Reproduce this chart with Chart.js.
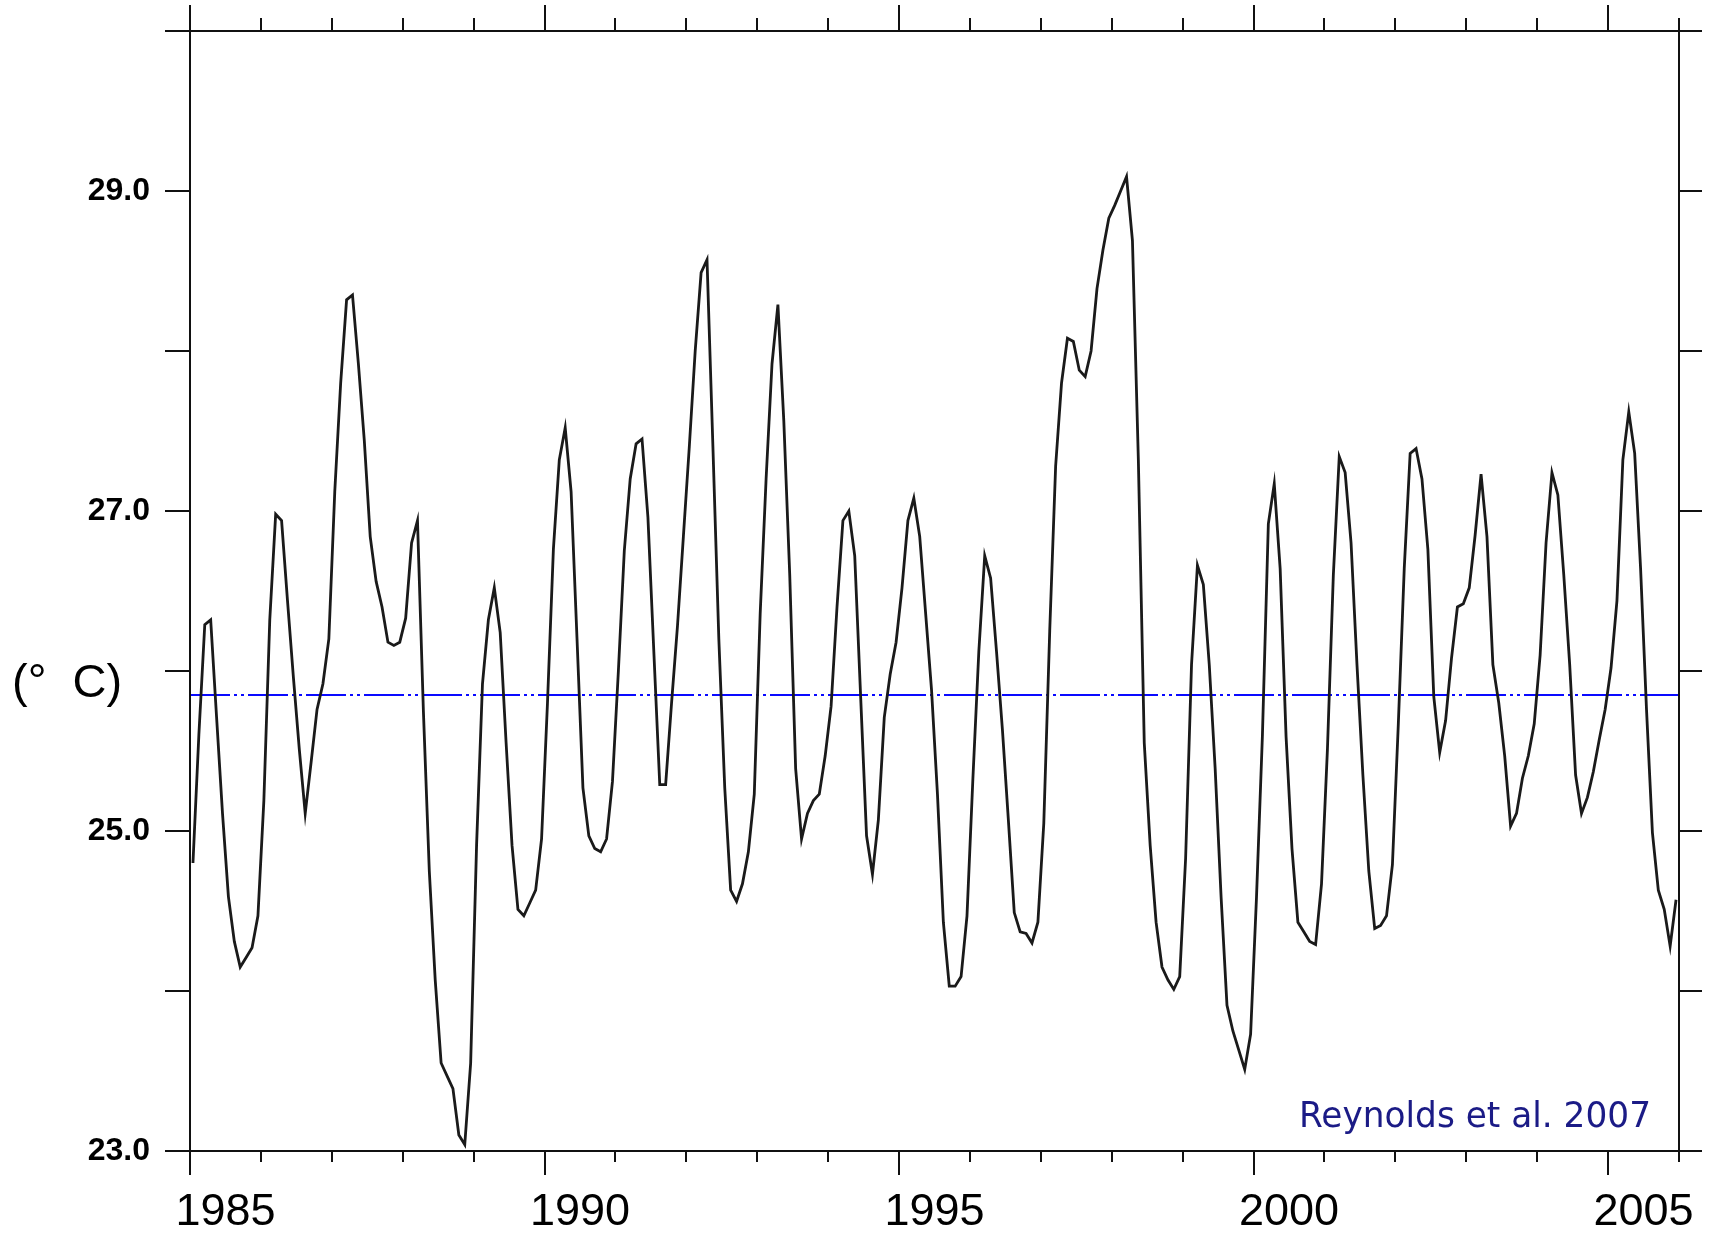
<!DOCTYPE html>
<html>
<head>
<meta charset="utf-8">
<script src="https://cdn.jsdelivr.net/npm/chart.js@4.4.1/dist/chart.umd.min.js"></script>
<style>
  html, body { margin: 0; padding: 0; background: #ffffff; }
  #wrap { width: 1716px; height: 1239px; }
</style>
</head>
<body>
<div id="wrap"><canvas id="sst" width="1716" height="1239"></canvas></div>
<script>
// Monthly mean sea surface temperature (°C), January 1985 – December 2005
const startYear = 1985;
const endYear = 2006;
const sstMonthly = [
  24.80, 25.60, 26.29, 26.32, 25.71, 25.11, 24.59, 24.31, 24.15, 24.21, 24.27, 24.47, // 1985
  25.19, 26.32, 26.98, 26.94, 26.44, 25.96, 25.51, 25.11, 25.43, 25.76, 25.92, 26.20, // 1986
  27.12, 27.80, 28.32, 28.35, 27.92, 27.44, 26.84, 26.56, 26.40, 26.18, 26.16, 26.18, // 1987
  26.33, 26.80, 26.94, 25.75, 24.75, 24.07, 23.55, 23.47, 23.39, 23.10, 23.04, 23.55, // 1988
  24.91, 25.92, 26.32, 26.52, 26.24, 25.55, 24.91, 24.51, 24.47, 24.55, 24.63, 24.95, // 1989
  25.80, 26.76, 27.32, 27.52, 27.12, 26.20, 25.27, 24.97, 24.89, 24.87, 24.95, 25.31, // 1990
  26.00, 26.75, 27.20, 27.42, 27.45, 26.96, 26.12, 25.29, 25.29, 25.80, 26.28, 26.84, // 1991
  27.40, 28.00, 28.49, 28.57, 27.40, 26.20, 25.27, 24.63, 24.56, 24.67, 24.87, 25.23, // 1992
  26.36, 27.20, 27.92, 28.29, 27.56, 26.60, 25.39, 24.95, 25.11, 25.19, 25.23, 25.47, // 1993
  25.78, 26.40, 26.94, 27.00, 26.72, 25.84, 24.97, 24.73, 25.07, 25.71, 25.98, 26.18, // 1994
  26.52, 26.94, 27.08, 26.84, 26.36, 25.88, 25.23, 24.43, 24.03, 24.03, 24.09, 24.47, // 1995
  25.33, 26.12, 26.72, 26.58, 26.12, 25.63, 25.07, 24.49, 24.37, 24.36, 24.30, 24.43, // 1996
  25.05, 26.25, 27.28, 27.80, 28.08, 28.06, 27.88, 27.84, 28.00, 28.39, 28.63, 28.83, // 1997
  28.91, 29.00, 29.09, 28.69, 27.32, 25.55, 24.91, 24.43, 24.15, 24.07, 24.01, 24.09, // 1998
  24.83, 26.04, 26.66, 26.54, 26.04, 25.39, 24.59, 23.91, 23.75, 23.63, 23.51, 23.73, // 1999
  24.59, 25.60, 26.92, 27.17, 26.64, 25.59, 24.89, 24.43, 24.37, 24.31, 24.29, 24.67, // 2000
  25.51, 26.60, 27.34, 27.24, 26.80, 26.04, 25.35, 24.75, 24.39, 24.41, 24.47, 24.79, // 2001
  25.67, 26.64, 27.36, 27.39, 27.20, 26.76, 25.84, 25.49, 25.69, 26.08, 26.40, 26.42, // 2002
  26.52, 26.85, 27.23, 26.84, 26.04, 25.80, 25.47, 25.03, 25.11, 25.33, 25.47, 25.67, // 2003
  26.10, 26.80, 27.24, 27.10, 26.60, 26.04, 25.35, 25.11, 25.21, 25.37, 25.57, 25.76, // 2004
  26.02, 26.44, 27.32, 27.62, 27.36, 26.64, 25.76, 24.99, 24.63, 24.51, 24.28, 24.57  // 2005
];
// Long-term mean drawn as a reference line
const meanSst = 25.85;
const yRange = [23, 30];
const yLabelTicks = [23, 25, 27, 29];
const xLabelYears = [1985, 1990, 1995, 2000, 2005];
const unitLabel = '(°  C)';
const sourceNote = 'Reynolds et al. 2007';

const sstPoints = sstMonthly.map((v, i) => ({ x: startYear + (i + 0.5) / 12, y: v }));
const meanPoints = [{ x: startYear, y: meanSst }, { x: endYear, y: meanSst }];

// Box frame with outward ticks on all four sides, plus the free-standing labels
const axisFrame = {
  id: 'axisFrame',
  afterDatasetsDraw(chart) {
    const { ctx, chartArea: a, scales: { x, y } } = chart;
    ctx.save();
    ctx.strokeStyle = '#111111';
    ctx.lineWidth = 2;
    ctx.beginPath();
    ctx.rect(a.left, a.top, a.right - a.left, a.bottom - a.top);
    for (let yr = startYear; yr <= endYear; yr++) {
      const px = Math.round(x.getPixelForValue(yr));
      const major = yr % 5 === 0;
      ctx.moveTo(px, a.bottom); ctx.lineTo(px, a.bottom + (major ? 24 : 11));
      ctx.moveTo(px, a.top); ctx.lineTo(px, a.top - (major ? 26 : 13));
    }
    for (let v = yRange[0]; v <= yRange[1]; v++) {
      const py = Math.round(y.getPixelForValue(v));
      ctx.moveTo(a.left - 25, py); ctx.lineTo(a.left, py);
      ctx.moveTo(a.right, py); ctx.lineTo(a.right + 23, py);
    }
    ctx.stroke();

    ctx.fillStyle = '#000000';
    ctx.font = '47px "Liberation Sans", Arial, sans-serif';
    ctx.textAlign = 'left';
    ctx.textBaseline = 'alphabetic';
    ctx.fillText(unitLabel, 12, 697);

    ctx.fillStyle = '#1b1b86';
    ctx.font = '36px "DejaVu Sans", sans-serif';
    ctx.textAlign = 'right';
    ctx.fillText(sourceNote, a.right - 28, 1127, 352);
    ctx.restore();
  }
};

new Chart(document.getElementById('sst'), {
  type: 'line',
  data: {
    datasets: [
      {
        data: sstPoints,
        borderColor: '#1a1a1a',
        borderWidth: 2.8,
        pointRadius: 0,
        tension: 0,
        fill: false
      },
      {
        data: meanPoints,
        borderColor: '#0a0aff',
        borderWidth: 2,
        borderDash: [40, 4, 3, 4, 3, 4],
        pointRadius: 0,
        fill: false
      }
    ]
  },
  options: {
    responsive: false,
    animation: false,
    devicePixelRatio: 1,
    layout: { autoPadding: false, padding: { top: 31, right: 37, left: 0, bottom: 0 } },
    plugins: { legend: { display: false }, tooltip: { enabled: false } },
    scales: {
      x: {
        type: 'linear',
        min: startYear,
        max: endYear,
        grid: { display: false, drawTicks: false },
        border: { display: false },
        afterFit(scale) {
          scale.height = 88;
          scale.paddingLeft = 0;
          scale.paddingRight = 0;
        },
        // year labels sit at the middle of their year
        afterBuildTicks(scale) { scale.ticks = xLabelYears.map(v => ({ value: v + 0.5 })); },
        ticks: {
          autoSkip: false,
          maxRotation: 0,
          padding: 35,
          color: '#000000',
          font: { family: '"Liberation Sans", Arial, sans-serif', size: 45 },
          callback: v => String(Math.floor(v))
        }
      },
      y: {
        type: 'linear',
        min: yRange[0],
        max: yRange[1],
        grid: { display: false, drawTicks: false },
        border: { display: false },
        afterFit(scale) {
          scale.width = 190;
          scale.paddingTop = 0;
          scale.paddingBottom = 0;
        },
        afterBuildTicks(scale) { scale.ticks = yLabelTicks.map(v => ({ value: v })); },
        ticks: {
          padding: 40,
          color: '#000000',
          font: { family: '"Liberation Sans", Arial, sans-serif', size: 32, weight: 'bold' },
          callback: v => v.toFixed(1)
        }
      }
    }
  },
  plugins: [axisFrame]
});
</script>
</body>
</html>
